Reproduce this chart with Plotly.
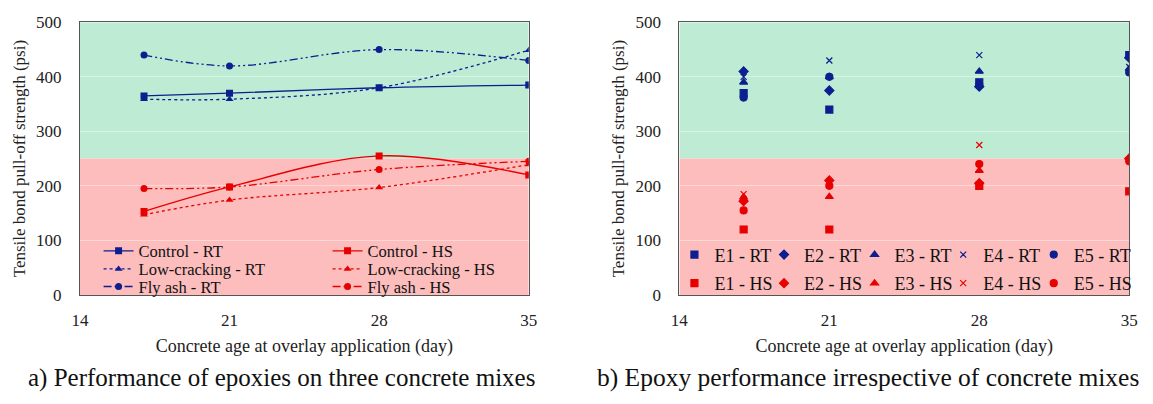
import plotly.graph_objects as go

# Concrete age at overlay application (day)
ages = [17, 21, 28, 35]

# Panel a) tensile bond pull-off strength (psi) by concrete mix
control_rt = [365, 370, 380, 385]
lowcrack_rt = [359, 359, 380, 449]
flyash_rt = [440, 420, 450, 430]
control_hs = [153, 198, 255, 220]
lowcrack_hs = [147, 174, 197, 239]
flyash_hs = [195, 198, 230, 245]

# Panel b) tensile bond pull-off strength (psi) by epoxy
epoxies = ["E1", "E2", "E3", "E4", "E5"]
e_rt = {
    "E1": [370, 340, 390, 440],
    "E2": [410, 375, 382, 435],
    "E3": [390, 400, 410, 415],
    "E4": [400, 430, 440, 418],
    "E5": [362, 400, 385, 408],
}
e_hs = {
    "E1": [120, 120, 200, 190],
    "E2": [172, 210, 205, 250],
    "E3": [179, 180, 228, 252],
    "E4": [185, 205, 275, 248],
    "E5": [155, 200, 240, 245],
}

x_ticks = [14, 21, 28, 35]
y_ticks = [0, 100, 200, 300, 400, 500]
threshold = 250

BLUE = "#0d1f8f"
RED = "#e80000"
GREEN_BG = "#bdebd3"
RED_BG = "#fdbdbd"
FONT = "Liberation Serif, Times New Roman, serif"
W, H = 1153, 404


def px(v):
    return v / W


def py(v):
    return 1 - v / H


fig = go.Figure()
legends = {}


def row_legend(x, y, size, width=0):
    return dict(x=px(x), y=py(y), xanchor="left", yanchor="middle", orientation="h",
                bgcolor="rgba(0,0,0,0)", font=dict(family=FONT, size=size, color="#111"),
                entrywidth=width, itemwidth=30)


dash_ddot = "8px,3px,2px,3px,2px,3px"
# panel a): one legend row per concrete mix, RT in the left column, HS in the right
left_series = [
    ("Control - RT", control_rt, BLUE, "solid", "square", "legend"),
    ("Low-cracking - RT", lowcrack_rt, BLUE, "dot", "triangle-up", "legend2"),
    ("Fly ash - RT", flyash_rt, BLUE, dash_ddot, "circle", "legend3"),
    ("Control - HS", control_hs, RED, "solid", "square", "legend"),
    ("Low-cracking - HS", lowcrack_hs, RED, "dot", "triangle-up", "legend2"),
    ("Fly ash - HS", flyash_hs, RED, dash_ddot, "circle", "legend3"),
]
for name, ys, col, dash, sym, leg in left_series:
    fig.add_trace(go.Scatter(
        x=ages, y=ys, name=name, mode="lines+markers",
        line=dict(color=col, width=1.3, dash=dash, shape="spline", smoothing=1),
        marker=dict(symbol=sym, size=7, color=col),
        xaxis="x", yaxis="y", legend=leg,
    ))
legends["legend"] = row_legend(91, 254, 16.5, 184)
legends["legend2"] = row_legend(91, 273, 16.5, 184)
legends["legend3"] = row_legend(91, 291.5, 16.5, 184)

# panel b): each epoxy entry gets its own legend slot on a 5 x 2 grid
symbols = {"E1": "square", "E2": "diamond", "E3": "triangle-up", "E4": "x-thin", "E5": "circle"}
col_x = [689, 780, 872, 962, 1054]
row_y = {"RT": 258, "HS": 288}
n = 4
for group, col, suffix in [(e_rt, BLUE, "RT"), (e_hs, RED, "HS")]:
    for i, key in enumerate(epoxies):
        ys = group[key]
        sym = symbols[key]
        leg = f"legend{n}"
        n += 1
        fig.add_trace(go.Scatter(
            x=ages, y=ys, name=f"{key} - {suffix}", mode="markers",
            marker=dict(symbol=sym, size=7 if sym != "x-thin" else 6, color=col,
                        line=dict(color=col, width=1.2)),
            xaxis="x2", yaxis="y2", legend=leg,
        ))
        legends[leg] = row_legend(col_x[i] - 13, row_y[suffix], 18)

# Green/red performance bands behind both panels
for xr, yr in [("x", "y"), ("x2", "y2")]:
    fig.add_shape(type="rect", xref=xr, yref=yr, x0=x_ticks[0], x1=x_ticks[-1],
                  y0=threshold, y1=y_ticks[-1], fillcolor=GREEN_BG, line_width=0, layer="below")
    fig.add_shape(type="rect", xref=xr, yref=yr, x0=x_ticks[0], x1=x_ticks[-1],
                  y0=y_ticks[0], y1=threshold, fillcolor=RED_BG, line_width=0, layer="below")

axis_common = dict(
    showline=True, linecolor="#555555", linewidth=1, mirror=True,
    ticks="", tickfont=dict(family=FONT, size=17, color="#222"),
)
xaxis_common = dict(axis_common, range=[x_ticks[0], x_ticks[-1]], tickvals=x_ticks,
                    showgrid=False, zeroline=False, ticklabelstandoff=10,
                    title=dict(text="Concrete age at overlay application (day)",
                               font=dict(family=FONT, size=18, color="#222"), standoff=10))
yaxis_common = dict(axis_common, range=[y_ticks[0], y_ticks[-1]], tickvals=y_ticks,
                    showgrid=True, gridcolor="rgba(255,255,255,0.4)", gridwidth=1,
                    zeroline=False, ticklabelstandoff=14,
                    title=dict(text="Tensile bond pull-off strength (psi)",
                               font=dict(family=FONT, size=17, color="#222"), standoff=6))

fig.update_layout(
    width=W, height=H,
    margin=dict(l=0, r=0, t=0, b=0),
    paper_bgcolor="white", plot_bgcolor="rgba(0,0,0,0)",
    xaxis=dict(xaxis_common, domain=[px(72), px(528)], anchor="y"),
    yaxis=dict(yaxis_common, domain=[py(300), py(14)], anchor="x"),
    xaxis2=dict(xaxis_common, domain=[px(681), px(1138)], anchor="y2"),
    yaxis2=dict(yaxis_common, domain=[py(300), py(14)], anchor="x2"),
    annotations=[
        dict(text="a) Performance of epoxies on three concrete mixes", x=px(277), y=py(387),
             xref="paper", yref="paper", xanchor="center", yanchor="middle", showarrow=False,
             font=dict(family=FONT, size=25, color="#111")),
        dict(text="b) Epoxy performance irrespective of concrete mixes", x=px(873), y=py(387),
             xref="paper", yref="paper", xanchor="center", yanchor="middle", showarrow=False,
             font=dict(family=FONT, size=25.5, color="#111")),
    ],
    **legends,
)

fig.write_html("out.html")
